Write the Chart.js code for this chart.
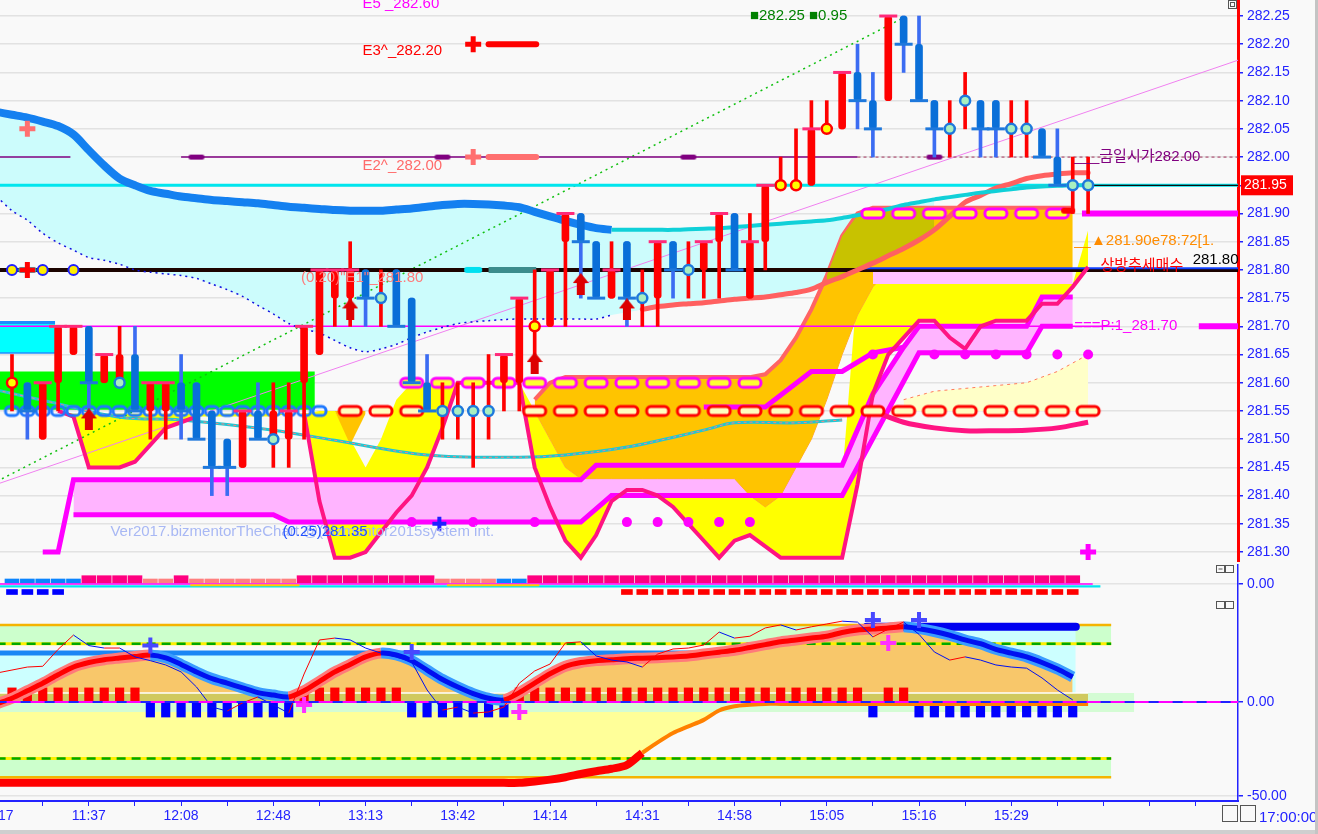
<!DOCTYPE html>
<html>
<head>
<meta charset="utf-8">
<title>bizmentorTheChart</title>
<script src="https://cdn.jsdelivr.net/npm/chart.js@4.4.1/dist/chart.umd.min.js"></script>
<style>
  html, body { margin: 0; padding: 0; }
  body { width: 1318px; height: 834px; overflow: hidden; background: #f9f9f9; position: relative; }
  .pane { position: absolute; left: 0; width: 1318px; }
  #rim { position: absolute; top: 0; left: 1315px; width: 3px; height: 834px; background: #c4c4c4; }
  #foot { position: absolute; top: 830px; left: 0; width: 1315px; height: 4px; background: #cfcfcf; }
</style>
</head>
<body>
<div class="pane" style="top:0;height:562px"><canvas id="priceChart"></canvas></div>
<div class="pane" style="top:564px;height:34px"><canvas id="stripChart"></canvas></div>
<div class="pane" style="top:598px;height:236px"><canvas id="oscChart"></canvas></div>
<div id="rim"></div><div id="foot"></div>
<script>
// ---------- bars (index 0 = first full bar on screen) ----------
const opens = [
  281.60,281.60,281.50,281.60,281.65,281.70,281.60,281.60,281.65,281.55,
  281.55,281.60,281.60,281.55,281.50,281.45,281.55,281.50,281.50,281.60,
  281.65,281.75,281.75,281.80,281.75,281.80,281.75,281.60,281.55,281.55,
  281.55,281.55,281.60,281.60,281.70,281.70,281.85,281.90,281.85,281.75,
  281.85,281.75,281.75,281.85,281.80,281.80,281.85,281.90,281.75,281.85,
  281.95,281.95,281.95,282.05,282.05,282.15,282.10,282.10,282.25,282.20,
  282.10,282.05,282.10,282.10,282.10,282.05,282.05,282.05,282.00,281.95,
  281.95];
const highs = [
  281.65,281.60,281.60,281.70,281.70,281.70,281.65,281.70,281.70,281.60,
  281.60,281.65,281.60,281.55,281.50,281.55,281.60,281.60,281.60,281.70,
  281.80,281.80,281.85,281.80,281.80,281.80,281.75,281.65,281.60,281.60,
  281.60,281.65,281.65,281.75,281.80,281.80,281.90,281.90,281.85,281.85,
  281.85,281.80,281.85,281.85,281.85,281.85,281.90,281.90,281.90,281.95,
  282.00,282.05,282.10,282.10,282.15,282.20,282.15,282.25,282.25,282.25,
  282.10,282.10,282.15,282.10,282.10,282.10,282.10,282.05,282.05,282.00,
  282.00];
const lows = [
  281.55,281.50,281.50,281.55,281.65,281.55,281.60,281.60,281.55,281.50,
  281.50,281.50,281.50,281.40,281.40,281.45,281.50,281.45,281.45,281.50,
  281.65,281.70,281.70,281.70,281.70,281.70,281.60,281.55,281.50,281.50,
  281.45,281.50,281.55,281.55,281.65,281.70,281.70,281.75,281.75,281.75,
  281.70,281.70,281.70,281.75,281.75,281.75,281.75,281.80,281.75,281.80,
  281.95,281.95,281.95,282.05,282.05,282.05,282.00,282.10,282.15,282.10,
  282.00,282.00,282.05,282.00,282.00,282.00,282.00,282.00,281.95,281.90,
  281.90];
const closes = [
  281.60,281.55,281.60,281.70,281.70,281.60,281.65,281.65,281.55,281.60,
  281.60,281.55,281.50,281.45,281.45,281.55,281.50,281.55,281.55,281.70,
  281.80,281.80,281.80,281.75,281.75,281.70,281.60,281.55,281.55,281.55,
  281.55,281.55,281.65,281.75,281.70,281.80,281.90,281.85,281.75,281.80,
  281.75,281.75,281.85,281.80,281.80,281.85,281.90,281.80,281.85,281.95,
  281.95,281.95,282.05,282.05,282.15,282.10,282.05,282.25,282.20,282.10,
  282.05,282.05,282.10,282.05,282.05,282.05,282.05,282.00,281.95,281.95,
  281.95];

// ---------- time axis ----------
const timeIdx = [-1, 5, 11, 17, 23, 29, 35, 41, 47, 53, 59, 65];
const timeText = ['11:17','11:37','12:08','12:48','13:13','13:42','14:14','14:31','14:58','15:05','15:16','15:29'];
const priceTicks = [281.30,281.35,281.40,281.45,281.50,281.55,281.60,281.65,281.70,281.75,
                    281.80,281.85,281.90,281.95,282.00,282.05,282.10,282.15,282.20,282.25];

// ---------- price overlays ----------
// slow average, bars -1..70
const maVals = [
  282.080,282.075,282.070,282.063,282.055,282.040,282.012,281.985,281.962,281.950,
  281.940,281.935,281.930,281.927,281.924,281.922,281.920,281.918,281.915,281.912,
  281.910,281.908,281.906,281.905,281.905,281.905,281.907,281.909,281.912,281.915,
  281.917,281.917,281.916,281.914,281.911,281.903,281.895,281.887,281.880,281.874,
  281.871,281.871,281.871,281.871,281.871,281.872,281.873,281.874,281.876,281.878,
  281.880,281.882,281.884,281.886,281.888,281.892,281.897,281.902,281.908,281.915,
  281.920,281.925,281.929,281.933,281.937,281.940,281.943,281.946,281.948,281.949,
  281.950,281.950];
// dotted lower band, bars -1..40
const dotVals = [
  281.930,281.905,281.888,281.865,281.848,281.835,281.822,281.817,281.810,281.800,
  281.796,281.793,281.790,281.785,281.775,281.765,281.753,281.737,281.722,281.705,
  281.695,281.688,281.675,281.662,281.655,281.660,281.668,281.680,281.690,281.698,
  281.705,281.708,281.710,281.712,281.713,281.713,281.713,281.713,281.713,281.713,
  281.720,281.725];
// salmon average, bars 41..70
const salVals = [
  281.730,281.735,281.738,281.740,281.742,281.745,281.748,281.750,281.752,281.756,
  281.760,281.766,281.778,281.788,281.800,281.812,281.825,281.838,281.853,281.871,
  281.895,281.920,281.932,281.945,281.953,281.962,281.967,281.970,281.972,281.972];
const tealIdx = [-1, 2, 7, 11, 17, 21, 27, 33, 36, 40, 45, 47, 51, 54];
const tealVals = [281.587,281.569,281.539,281.534,281.516,281.498,281.472,281.468,281.472,281.486,281.516,281.529,281.529,281.534];
// deep pink envelope and yellow top, bars 3..70
const dpVals = [
  281.55,281.54,281.45,281.45,281.45,281.46,281.49,281.52,281.53,281.54,
  281.54,281.54,281.54,281.54,281.54,281.545,281.546,281.39,281.29,281.29,
  281.30,281.335,281.37,281.40,281.45,281.52,281.60,281.60,281.60,281.60,
  281.60,281.45,281.38,281.32,281.29,281.33,281.39,281.41,281.41,281.40,
  281.38,281.35,281.32,281.29,281.32,281.33,281.31,281.29,281.29,281.29,
  281.29,281.29,281.42,281.58,281.65,281.68,281.71,281.71,281.68,281.66,
  281.70,281.71,281.71,281.71,281.74,281.74,281.77,281.805];
const ytVals = [
  281.55,281.545,281.545,281.545,281.545,281.545,281.545,281.545,281.545,281.545,
  281.545,281.545,281.545,281.545,281.545,281.545,281.545,281.55,281.55,281.50,
  281.45,281.50,281.57,281.60,281.60,281.60,281.60,281.60,281.60,281.60,
  281.60,281.55,281.50,281.45,281.43,281.43,281.43,281.43,281.43,281.43,
  281.43,281.43,281.43,281.43,281.43,281.43,281.43,281.43,281.43,281.43,
  281.43,281.43,281.775,281.775,281.775,281.775,281.775,281.775,281.775,281.775,
  281.775,281.775,281.775,281.775,281.775,281.775,281.775,281.87];
// orange cloud, bars 34..69
const oTopVals = [
  281.57,281.60,281.61,281.61,281.61,281.61,281.61,281.61,281.61,281.61,
  281.61,281.61,281.61,281.61,281.61,281.615,281.64,281.68,281.73,281.79,
  281.86,281.90,281.91,281.91,281.91,281.91,281.91,281.91,281.91,281.91,
  281.91,281.91,281.91,281.91,281.91,281.91];
const oBotVals = [
  281.55,281.50,281.45,281.43,281.43,281.43,281.43,281.43,281.43,281.43,
  281.43,281.43,281.43,281.43,281.40,281.38,281.40,281.45,281.50,281.57,
  281.65,281.72,281.77,281.80,281.80,281.80,281.80,281.80,281.80,281.80,
  281.80,281.80,281.80,281.80,281.80,281.80];
// small orange wedge, bars 21..23
const wedgeIdx = [21, 22, 23];
const wedgeVals = [281.55, 281.49, 281.545];
const m1Idx = [2, 3, 4, 37, 38, 54, 56, 58, 59, 66, 67, 69];
const m1Vals = [281.30,281.30,281.428,281.428,281.454,281.454,281.58,281.663,281.70,281.70,281.752,281.752];
const m2Idx = [4, 17, 18, 37, 39, 54, 59, 66, 67, 69];
const m2Vals = [281.366,281.366,281.353,281.353,281.40,281.40,281.653,281.653,281.70,281.70];
const m3Idx = [45, 49, 52, 54, 56, 58];
const m3Vals = [281.557,281.557,281.62,281.62,281.653,281.663];
const lyIdx = [58, 60, 62, 64, 66, 68, 70];
const lyVals = [281.57,281.585,281.59,281.595,281.60,281.62,281.65];
const smIdx = [56, 58, 60, 62, 64, 66, 68, 70];
const smVals = [281.55,281.53,281.52,281.515,281.515,281.516,281.52,281.53];

// markers
const redMarkIdx = [0, 34, 50, 51, 53];
const redMarkPx = [281.60, 281.70, 281.95, 281.95, 282.05];
const blueMarkIdx = [7, 17, 24, 28, 29, 30, 31, 41, 44, 61, 62, 65, 66, 69, 70];
const blueMarkPx = [281.60,281.50,281.75,281.55,281.55,281.55,281.55,281.75,281.80,282.05,282.10,282.05,282.05,281.95,281.95];
const blueOvalIdx = [0,1,2,3,4,5,6,7,8,9,10,11,12,13,14,15,16,17,18,19,20];
const redOvalIdx = [22,24,26,34,36,38,40,42,44,46,48,50,52,54,56,58,60,62,64,66,68,70];
const magLowIdx = [26,28,30,32,34,36,38,40,42,44,46,48];
const magHighIdx = [56,58,60,62,64,66,68];
const capIdx = [12, 28, 44, 60];
const dotLowIdx = [26, 30, 34, 40, 42, 44, 46, 48];
const dotHighIdx = [56, 60, 62, 64, 66, 68, 70];
const arrowIdx = [5, 22, 34, 37, 40];
const arrowPx = [281.535, 281.73, 281.635, 281.775, 281.73];

// ---------- strip panel ----------
const stripKind = ('BBBBB' + 'HHHH' + 'SS' + 'H' + 'SSSSSSS' + 'HHHHHHHHH' + 'SSSS' + 'BB' +
                   'HHHHHHHHHHHH' + 'HHHHHHHHHHHH' + 'HHHHHHHHHHHH').split('');
const stripBlueSq = [0, 1, 2, 3];
const stripRedFrom = 40, stripRedTo = 69;

// ---------- oscillator panel, bars -1..69 ----------
const oscVals = [
  -1, 2, 6, 10, 14.5, 18.6, 21, 22.5, 23.4, 24.2,
  25, 23.5, 20, 16, 12.5, 10, 7.5, 5, 3.7, 2.7,
  6, 11, 16, 20, 24, 26, 25, 22, 17, 12,
  8, 4.5, 2, 1.1, 5, 10, 15, 19, 21, 22,
  22.5, 23, 23.3, 23.6, 24, 24.5, 25.5, 26.5, 27.5, 29,
  30.5, 32, 33, 34, 35, 37, 38.3, 38.8, 39.3, 40,
  39, 37.5, 35.5, 33, 31, 28, 26, 24, 21, 17.5,
  13.3];
const fastVals = [
  15.4, 17, 18.6, 19, 28, 35.6, 30, 28.7, 28.7, 24,
  22, 19.7, 16, 8, -2.7, -4.8, -0.5, 2.7, -1.6, -5.9,
  14.9, 33, 34, 33, 28.7, 26, 24, 21.3, 6.4, -4.3,
  -2.7, -5.9, -5.3, -2.7, 10, 16.5, 20.2, 31.4, 32, 24.5,
  22.3, 21.3, 18.6, 25.5, 28.2, 28.7, 30.3, 37.2, 34, 35,
  39.4, 41, 38.3, 40, 41.5, 43, 42.5, 34.6, 38.8, 42.5,
  36, 26.6, 22.3, 24, 22.3, 19.7, 18.6, 18, 12.8, 6.4,
  1.1];
// signal, bars -1..70
const sigVals = [
  -43, -43, -43, -43, -43, -43, -43, -43, -43, -43,
  -43, -43, -43, -43, -43, -43, -43, -43, -43, -43,
  -43, -43, -43, -43, -43, -43, -43, -43, -43, -43,
  -43, -43, -43, -43, -43, -42.3, -41.3, -40, -38.3, -36.8,
  -35.5, -33.5, -27, -21.5, -16.5, -13, -9.5, -4.5, -2.3, -1.5,
  -1, -1, -1, -1, -1, -1, -1, -1, -1, -1,
  -1, -1, -1, -1, -1, -1, -1, -1, -1, -1,
  -1, -1];
// histogram, bars 0..69
const histVals = [
  7.5,7.5,7.5,7.5,7.5,7.5,7.5,7.5,7.5,-8,
  -8,-8,-8,-8,-8,-8,-8,-8,-8,7.5,
  7.5,7.5,7.5,7.5,7.5,7.5,-8,-8,-8,-8,
  -8,-8,-8,7.5,7.5,7.5,7.5,7.5,7.5,7.5,
  7.5,7.5,7.5,7.5,7.5,7.5,7.5,7.5,7.5,7.5,
  7.5,7.5,7.5,7.5,7.5,7.5,-8,7.5,7.5,-8,
  -8,-8,-8,-8,-8,-8,-8,-8,-8,-8];
const stepIdx = [-1, 55.6, 69.2];
const stepVals = [26.1, 40, 40];

// ---------- helpers ----------
const X_MIN = -0.78, X_MAX = 79.75, AXIS_W = 80;
const RED = '#ff0000', BLUE = '#0a6fd8';
const range = (a, b) => { const r = []; for (let i = a; i <= b; i++) r.push(i); return r; };
const pts = (idx, vals) => idx.map((x, k) => ({x, y: vals[k]}));
const flat = (a, b, v) => [{x: a, y: v}, {x: b, y: v}];
const at = (vals, first) => i => vals[i - first];
const maAt = at(maVals, -1), dotAt = at(dotVals, -1), salAt = at(salVals, 41);
const oTopAt = at(oTopVals, 34);

function ln(data, color, width, more) {
  return Object.assign({type: 'line', data, borderColor: color, borderWidth: width,
    pointRadius: 0, fill: false, tension: 0}, more || {});
}
const ghost = data => ln(data, 'rgba(0,0,0,0)', 0);
const area = (data, color, more) => ln(data, 'rgba(0,0,0,0)', 0,
  Object.assign({fill: {target: '-1', above: color, below: color}}, more || {}));
function marks(data, style, radius, more) {
  return Object.assign({type: 'line', data, showLine: false, pointStyle: style,
    pointRadius: radius, pointHoverRadius: radius}, more || {});
}
function bars(data, color, width) {
  return {type: 'bar', data, backgroundColor: color, grouped: false, borderSkipped: false,
    barThickness: width, maxBarThickness: width};
}
function layer(list) { const n = list.length; list.forEach((d, k) => { d.order = n - k; }); return list; }

function capsule(w, h, fill, stroke, lw) {
  const c = document.createElement('canvas');
  c.width = w + lw * 2; c.height = h + lw * 2;
  const g = c.getContext('2d');
  g.beginPath();
  if (g.roundRect) g.roundRect(lw, lw, w, h, h / 2.2); else g.rect(lw, lw, w, h);
  if (fill) { g.fillStyle = fill; g.fill(); }
  if (stroke) { g.lineWidth = lw; g.strokeStyle = stroke; g.stroke(); }
  return c;
}
function upArrow(color) {
  const c = document.createElement('canvas'); c.width = 16; c.height = 22;
  const g = c.getContext('2d'); g.fillStyle = color;
  g.beginPath(); g.moveTo(8, 0); g.lineTo(16, 10); g.lineTo(0, 10); g.closePath(); g.fill();
  g.fillRect(4, 10, 8, 12);
  return c;
}

Chart.defaults.animation = false;
Chart.defaults.events = [];
Chart.defaults.font.family = '"Liberation Sans", Arial, sans-serif';
Chart.defaults.plugins.legend.display = false;
Chart.defaults.plugins.tooltip.enabled = false;
Chart.defaults.elements.point.radius = 0;
Chart.defaults.layout.autoPadding = false;

// right value axis: fixed width, no label overflow padding so panels line up
const fitY = s => { s.width = AXIS_W; s.paddingTop = 0; s.paddingBottom = 0; };
const xHidden = () => ({type: 'linear', min: X_MIN, max: X_MAX, offset: false, bounds: 'data',
  grid: {offset: false}, display: false});
const baseOptions = () => ({
  responsive: true, maintainAspectRatio: false,
  layout: {padding: 0, autoPadding: false}
});

// ================= price panel =================
const barIdx = range(0, opens.length - 1);
const up = barIdx.map(i => closes[i] >= opens[i]);
const marked = new Set([...redMarkIdx, ...blueMarkIdx]);
const tickBars = barIdx.filter(i => !marked.has(i));
const lowerBand = range(-1, 60).map(i => ({x: i, y: i <= 40 ? dotAt(i) : salAt(i)}));
const maFill = range(-1, 60).map(i => ({x: i, y: maAt(i)}));
const oliveIdx = range(53, 60);

const priceSets = layer([
  ghost(lowerBand), area(maFill, '#ccfcfc', {tension: 0.3}),
  ghost(flat(-1, 19.7, 281.552)), area(flat(-1, 19.7, 281.62), '#00ff00'),
  ln(flat(-1, 2.8, 281.654), '#1e8cff', 3),
  ln(flat(-1, 2.8, 281.707), '#1e8cff', 3, {fill: {target: '-1', above: '#00ffff', below: '#00ffff'}}),
  ghost(pts(range(3, 70), dpVals)), area(pts(range(3, 70), ytVals), '#ffff00'),
  ghost(pts(wedgeIdx, wedgeVals)), area(flat(21, 23, 281.55), '#ffc400'),
  ghost(pts(m2Idx, m2Vals)), area(pts(m1Idx, m1Vals), '#ffb4ff'),
  ln(pts(range(34, 69), oBotVals), '#ff9a40', 1),
  ln(pts(range(34, 69), oTopVals), '#ff6464', 4, {fill: {target: '-1', above: '#ffc400', below: '#ffc400'}}),
  ghost(oliveIdx.map(i => ({x: i, y: salAt(i)}))),
  ln(oliveIdx.map(i => ({x: i, y: Math.min(maAt(i), oTopAt(i))})), 'rgba(0,0,0,0)', 0,
     {fill: {target: '-1', above: '#c8c200', below: 'rgba(0,0,0,0)'}}),
  ghost(flat(58, 70, 281.55)),
  ln(pts(lyIdx, lyVals), '#ff7a5a', 1, {borderDash: [3, 4], fill: {target: '-1', above: '#ffffc8', below: '#ffffc8'}}),
  ghost(flat(56, 69, 281.775)), area(flat(56, 69, 281.80), '#ffc0ff'),

  ln([{x: -1, y: 281.42}, {x: 80, y: 282.174}], '#f080f0', 1),
  ln([{x: -1, y: 281.425}, {x: 58, y: 282.247}], '#10c010', 1.5, {borderDash: [2, 4]}),
  ln(flat(-1, 3.8, 282.00), '#800080', 1.5),
  ln(flat(11, 55, 282.00), '#800080', 1.5),
  ln(flat(55, 80, 282.00), '#a0305a', 1, {borderDash: [3, 3]}),
  ln(flat(-1, 80, 281.95), '#00e6ee', 3),
  ln(flat(70, 80, 281.95), '#101010', 1.2),
  ln(flat(-1, 80, 281.80), '#1c0400', 4),
  ln(flat(55, 80, 281.803), '#1040ff', 2),
  ln(flat(-1, 72, 281.70), '#ff00ff', 1.5),
  ln(flat(77.2, 80, 281.70), '#ff00ff', 6),
  ln(flat(69.6, 80, 281.90), '#ff00ff', 6),
  ln(pts(tealIdx, tealVals), '#22c6d2', 3, {tension: 0.35}),
  ln(pts(tealIdx, tealVals), '#ff8080', 1, {tension: 0.35, borderDash: [3, 3]}),
  ln(pts(m1Idx, m1Vals), '#ff00ff', 5),
  ln(pts(m2Idx, m2Vals), '#ff00ff', 5),
  ln(pts(m3Idx, m3Vals), '#ff00ff', 5),
  ln(pts(range(3, 70), dpVals), '#ff1482', 4,
     {segment: {borderColor: c => (c.p0.parsed.x >= 12 && c.p1.parsed.x <= 19) ? 'rgba(0,0,0,0)' : '#ff1482'}}),
  ln(pts(smIdx, smVals), '#ff1482', 5, {tension: 0.3}),
  ln(range(-1, 39).map(i => ({x: i, y: dotAt(i)})), '#1010e0', 1.5, {borderDash: [2, 4], tension: 0.3}),
  ln(range(41, 70).map(i => ({x: i, y: salAt(i)})), '#ff6060', 5, {tension: 0.3, borderCapStyle: 'round'}),
  ln(range(-1, 39).map(i => ({x: i, y: maAt(i)})), '#1480f0', 8, {tension: 0.3}),
  ln(range(39, 70).map(i => ({x: i, y: maAt(i)})), '#10d0d8', 4, {tension: 0.3}),
  ln(flat(31, 34.1, 282.20), '#ff0000', 6, {borderCapStyle: 'round'}),
  ln(flat(31, 34.1, 282.00), '#ff7070', 6, {borderCapStyle: 'round'}),
  ln(flat(31, 34.1, 281.80), '#3c8c8c', 6),

  marks(capIdx.map(i => ({x: i, y: 282.00})), capsule(16, 5, '#800080', null, 1), 8),
  marks(dotLowIdx.map(i => ({x: i, y: 281.353})), 'circle', 5, {pointBackgroundColor: '#ff00ff', pointBorderWidth: 0}),
  marks(dotHighIdx.map(i => ({x: i, y: 281.65})), 'circle', 5, {pointBackgroundColor: '#ff00ff', pointBorderWidth: 0}),
  marks(blueOvalIdx.map(i => ({x: i, y: 281.55})), capsule(13, 9, null, '#1e78ff', 3), 8),
  marks(redOvalIdx.map(i => ({x: i, y: 281.55})), capsule(22, 9, '#ffffc0', '#ff0000', 3), 12),
  marks(magLowIdx.map(i => ({x: i, y: 281.60})), capsule(22, 9, '#ffff30', '#ff00ff', 3), 12),
  marks(magHighIdx.map(i => ({x: i, y: 281.90})), capsule(22, 9, '#ffff30', '#ff00ff', 3), 12),
  marks([{x: 68.7, y: 281.905}], capsule(14, 6, '#ff0000', null, 1), 8),
  marks([0, 2, 4].map(i => ({x: i, y: 281.80})), 'circle', 5, {pointBackgroundColor: '#ffee00', pointBorderColor: '#2020ff', pointBorderWidth: 2}),
  marks([1, 30].map(i => ({x: i, y: 281.80})), capsule(18, 6, '#00e0f0', null, 1), 10),

  bars(barIdx.map(i => ({x: i, y: [lows[i], highs[i]]})), barIdx.map(i => up[i] ? RED : '#3b6cf2'), 3),
  Object.assign(bars(barIdx.map(i => ({x: i, y: [opens[i], closes[i]]})), barIdx.map(i => up[i] ? RED : BLUE), 7), {borderRadius: 3}),
  marks(tickBars.map(i => ({x: i, y: closes[i]})), 'line', 9,
        {pointBorderWidth: 3, pointBorderColor: tickBars.map(i => up[i] ? '#ff2a7a' : '#1e78dc')}),
  marks(pts(redMarkIdx, redMarkPx), 'circle', 5, {pointBackgroundColor: '#ffff00', pointBorderColor: '#ff0000', pointBorderWidth: 2.5}),
  marks(pts(blueMarkIdx, blueMarkPx), 'circle', 5, {pointBackgroundColor: '#a8f0c0', pointBorderColor: '#1e78dc', pointBorderWidth: 2.5}),
  marks(pts(arrowIdx, arrowPx), upArrow('#dd0000'), 10),
  marks([{x: 1, y: 282.05}, {x: 30, y: 282.00}], 'cross', 8, {pointBorderColor: '#ff7070', pointBorderWidth: 5}),
  marks([{x: 30, y: 282.20}, {x: 1, y: 281.80}], 'cross', 8, {pointBorderColor: '#ff0000', pointBorderWidth: 5}),
  marks([{x: 70, y: 281.30}], 'cross', 8, {pointBorderColor: '#ff00ff', pointBorderWidth: 5}),
  marks([{x: 27.8, y: 281.35}], 'cross', 7, {pointBorderColor: '#2020ff', pointBorderWidth: 4})
]);

const notes = [
  {t: 'E5 _282.60', i: 22.8, p: 282.272, c: '#ff00ff'},
  {t: 'E3^_282.20', i: 22.8, p: 282.188, c: '#ff0000'},
  {t: 'E2^_282.00', i: 22.8, p: 281.985, c: '#ff6a6a'},
  {t: '(0.20)"E1"_281.80', i: 18.8, p: 281.786, c: '#ff7a7a'},
  {t: '\u25A0282.25 \u25A00.95', i: 48, p: 282.25, c: '#008000'},
  {t: '___금일시가282.00', i: 69.1, p: 282.00, c: '#800080'},
  {t: '__\u25B2281.90e78:72[1.', i: 69.1, p: 281.852, c: '#ff8c00'},
  {t: '상방추세매수', i: 70.8, p: 281.808, c: '#ff0000'},
  {t: '281.80', i: 76.8, p: 281.818, c: '#000000'},
  {t: '===P:1_281.70', i: 69.1, p: 281.70, c: '#ff00ff'},
  {t: 'Ver2017.bizmentorTheChart @(bizmentor2015system int.', i: 6.4, p: 281.336, c: '#a8b8f4'},
  {t: '(0.25)281.35', i: 17.6, p: 281.336, c: '#2050ff'}
];

const priceNotes = {
  id: 'priceNotes',
  afterDatasetsDraw(chart) {
    const {ctx, chartArea: a, scales: {x, y}} = chart;
    ctx.save();
    ctx.beginPath(); ctx.rect(a.left, a.top, a.right - a.left, a.bottom - a.top); ctx.clip();
    ctx.font = '15px "Liberation Sans", "Noto Sans CJK KR", sans-serif';
    ctx.textBaseline = 'middle';
    notes.forEach(n => { ctx.fillStyle = n.c; ctx.fillText(n.t, x.getPixelForValue(n.i), y.getPixelForValue(n.p)); });
    ctx.restore();
  },
  afterDraw(chart) {
    const {ctx, chartArea: a, scales: {y}} = chart;
    const py = y.getPixelForValue(closes[closes.length - 1]);
    ctx.save();
    ctx.fillStyle = '#ff0000';
    ctx.fillRect(a.right + 3, py - 10, 52, 20);
    ctx.fillStyle = '#ffffff';
    ctx.font = '14px "Liberation Sans", sans-serif';
    ctx.textBaseline = 'middle';
    ctx.fillText(closes[closes.length - 1].toFixed(2), a.right + 6, py);
    ctx.strokeStyle = '#555'; ctx.lineWidth = 1;
    ctx.strokeRect(a.right - 9.5, 0.5, 8, 8); ctx.strokeRect(a.right - 7.5, 2.5, 4, 4);
    ctx.restore();
  }
};

new Chart(document.getElementById('priceChart'), {
  type: 'line',
  data: {datasets: priceSets},
  options: Object.assign(baseOptions(), {
    scales: {
      x: xHidden(),
      y: {type: 'linear', position: 'right', min: 281.2823, max: 282.2784, afterFit: fitY,
          afterBuildTicks: s => { s.ticks = priceTicks.map(v => ({value: v})); },
          ticks: {color: '#2323ff', font: {size: 14}, padding: 4, callback: v => v.toFixed(2)},
          grid: {color: '#e2e2e2', lineWidth: 1.5, tickColor: '#2323ff', tickLength: 5},
          border: {color: '#ff0000', width: 3}}
    }
  }),
  plugins: [priceNotes]
});

// ================= strip panel =================
const stripColor = {H: '#ff0080', S: '#ff8080', B: '#0a84ff'};
const stripSets = layer([
  bars(stripKind.map((k, i) => ({x: i, y: k === 'H' ? [1, 8.3] : [1, 5]})), stripKind.map(k => stripColor[k]), 14),
  ln(flat(-1, 70.3, 0), '#ff00ff', 1.6),
  ln(flat(-1, 70.8, -2.4), '#00e6f0', 2.2),
  ln(flat(11.6, 18.7, -1.2), '#ffcc00', 2),
  ln(flat(28.3, 34.3, -1.2), '#ffcc00', 2),
  bars(stripBlueSq.map(i => ({x: i, y: [-5.5, -10.5]})), '#0000ff', 11),
  bars(range(stripRedFrom, stripRedTo).map(i => ({x: i, y: [-5.5, -10.5]})), '#ff0000', 11)
]);
const panelIcons = {
  id: 'panelIcons',
  afterDraw(chart) {
    const {ctx, chartArea: a} = chart;
    ctx.save(); ctx.strokeStyle = '#555'; ctx.lineWidth = 1;
    ctx.strokeRect(a.right - 21.5, a.top + 1.5, 8, 7); ctx.strokeRect(a.right - 12.5, a.top + 1.5, 8, 7);
    ctx.beginPath(); ctx.moveTo(a.right - 19.5, a.top + 5); ctx.lineTo(a.right - 15.5, a.top + 5); ctx.stroke();
    ctx.restore();
  }
};
new Chart(document.getElementById('stripChart'), {
  type: 'line',
  data: {datasets: stripSets},
  options: Object.assign(baseOptions(), {
    scales: {
      x: xHidden(),
      y: {type: 'linear', position: 'right', min: -14, max: 20, afterFit: fitY,
          afterBuildTicks: s => { s.ticks = [{value: 0}]; },
          ticks: {color: '#2323ff', font: {size: 14}, padding: 4, callback: v => v.toFixed(2)},
          grid: {color: '#e4e4e4', lineWidth: 1.5, tickColor: '#2323ff', tickLength: 5},
          border: {color: '#2323ff', width: 1.5}}
    }
  }),
  plugins: [panelIcons]
});

// ================= oscillator panel =================
const oscPts = pts(range(-1, 69), oscVals);
const sigPts = pts(range(-1, 70), sigVals);
const rise = (a, b) => c => c.p1.parsed.y >= c.p0.parsed.y ? a : b;
const oscSets = layer([
  ghost(flat(-1, 73, -5.3)), area(flat(-1, 73, 4.8), '#d4fcd4'),
  ln(sigPts.filter(p => p.x <= 47), 'rgba(0,0,0,0)', 0, {tension: 0.3,
     fill: {target: {value: -5.3}, above: 'rgba(0,0,0,0)', below: '#ffff99'}}),
  ghost(flat(-1, 71.5, 31)), area(flat(-1, 71.5, 41), '#ccffcc'),
  ghost(flat(-1, 71.5, -40)), area(flat(-1, 71.5, -30), '#ccffcc'),
  ln(flat(-1, stepIdx[1], stepVals[0]), '#1a86f5', 5, {fill: {target: {value: 4.8}, above: '#ccffff', below: 'rgba(0,0,0,0)'}}),
  ln(flat(stepIdx[1], stepIdx[2], stepVals[1]), 'rgba(0,0,0,0)', 0, {fill: {target: {value: 4.8}, above: '#ccffff', below: 'rgba(0,0,0,0)'}}),
  ln(flat(-1, 70, 4.8), 'rgba(0,0,0,0)', 0, {fill: {target: {value: 0}, above: '#d0c95e', below: 'rgba(0,0,0,0)'}}),
  ln(oscPts, 'rgba(0,0,0,0)', 0, {tension: 0.3, fill: {target: {value: 4.8}, above: '#f8c76a', below: 'rgba(0,0,0,0)'}}),
  ln(flat(-1, 70, 4.8), '#ffffff', 1.5),
  bars(histVals.map((v, i) => ({x: i, y: [0, v]})), histVals.map(v => v > 0 ? '#ff0000' : '#0000ff'), 8.5),
  ln(flat(-1, 71.5, 41), '#f5b400', 2.5),
  ln(flat(-1, 71.5, -40), '#f5b400', 2.5),
  ln(flat(-1, 71.5, 31), '#ffee00', 3),
  ln(flat(-1, 71.5, 31), '#00a800', 2.5, {borderDash: [9, 6]}),
  ln(flat(-1, 71.5, -30), '#ffee00', 3),
  ln(flat(-1, 71.5, -30), '#00a800', 2.5, {borderDash: [9, 6]}),
  ln(flat(stepIdx[1], stepIdx[2], stepVals[1]), '#0000f0', 8, {borderCapStyle: 'round'}),
  ln(oscPts, 'rgba(0,0,0,0)', 11, {tension: 0.3, segment: {borderColor: rise('#ff7a7a', '#3a9cff')}}),
  ln(oscPts, 'rgba(0,0,0,0)', 5, {tension: 0.3, segment: {borderColor: rise('#ff0000', '#0010f0')}}),
  ln(pts(range(-1, 69), fastVals), 'rgba(0,0,0,0)', 1, {segment: {borderColor: rise('#ff0000', '#0010f0')}}),
  ln(sigPts.filter(p => p.x <= 41), '#ff0000', 8, {tension: 0.3}),
  ln(sigPts.filter(p => p.x >= 41), '#ff8000', 4, {tension: 0.3}),
  ln(flat(-1, 80, 0), '#ff00ff', 2),
  ln(flat(-1, 80, 0), '#2020ff', 2, {borderDash: [10, 14]}),
  marks([{x: 9, y: 30}, {x: 26, y: 26.6}, {x: 56, y: 43.6}, {x: 59, y: 43.6}], 'cross', 8,
        {pointBorderColor: '#4848ff', pointBorderWidth: 4}),
  marks([{x: 19, y: -1.6}, {x: 33, y: -5.3}, {x: 57, y: 31.4}], 'cross', 8,
        {pointBorderColor: '#ff30ff', pointBorderWidth: 4})
]);
const oscExtras = {
  id: 'oscExtras',
  afterDraw(chart) {
    const {ctx, chartArea: a} = chart;
    ctx.save();
    ctx.fillStyle = '#2323ff';
    ctx.font = '15px "Liberation Sans", sans-serif';
    ctx.textBaseline = 'middle';
    ctx.fillText('17:00:00', a.right + 21, a.bottom + 17);
    ctx.strokeStyle = '#555'; ctx.lineWidth = 1;
    ctx.strokeRect(a.right - 21.5, a.top + 3.5, 8, 7); ctx.strokeRect(a.right - 12.5, a.top + 3.5, 8, 7);
    ctx.strokeRect(a.right - 15.5, a.bottom + 4.5, 15, 16); ctx.strokeRect(a.right + 2.5, a.bottom + 4.5, 15, 16);
    ctx.restore();
  }
};
new Chart(document.getElementById('oscChart'), {
  type: 'line',
  data: {datasets: oscSets},
  options: Object.assign(baseOptions(), {
    scales: {
      x: {type: 'linear', min: X_MIN, max: X_MAX, offset: false, bounds: 'data',
          afterFit: s => { s.height = 33; s.paddingLeft = 0; s.paddingRight = 0; },
          afterBuildTicks: s => { const t = []; for (let v = -1; v <= 77; v += 3) t.push({value: v}); s.ticks = t; },
          ticks: {color: '#2323ff', font: {size: 14}, autoSkip: false, maxRotation: 0, minRotation: 0, padding: 2,
                  callback: v => { const k = timeIdx.indexOf(v); return k >= 0 ? timeText[k] : ''; }},
          grid: {drawOnChartArea: false, offset: false, tickColor: '#2323ff', tickLength: 5},
          border: {color: '#2323ff', width: 2}},
      y: {type: 'linear', position: 'right', min: -52.66, max: 55.32, afterFit: fitY,
          afterBuildTicks: s => { s.ticks = [{value: -50}, {value: 0}]; },
          ticks: {color: '#2323ff', font: {size: 14}, padding: 4, callback: v => v.toFixed(2)},
          grid: {color: '#e4e4e4', lineWidth: 1.5, tickColor: '#2323ff', tickLength: 5},
          border: {color: '#2323ff', width: 1.5}}
    }
  }),
  plugins: [oscExtras]
});
</script>
</body>
</html>
